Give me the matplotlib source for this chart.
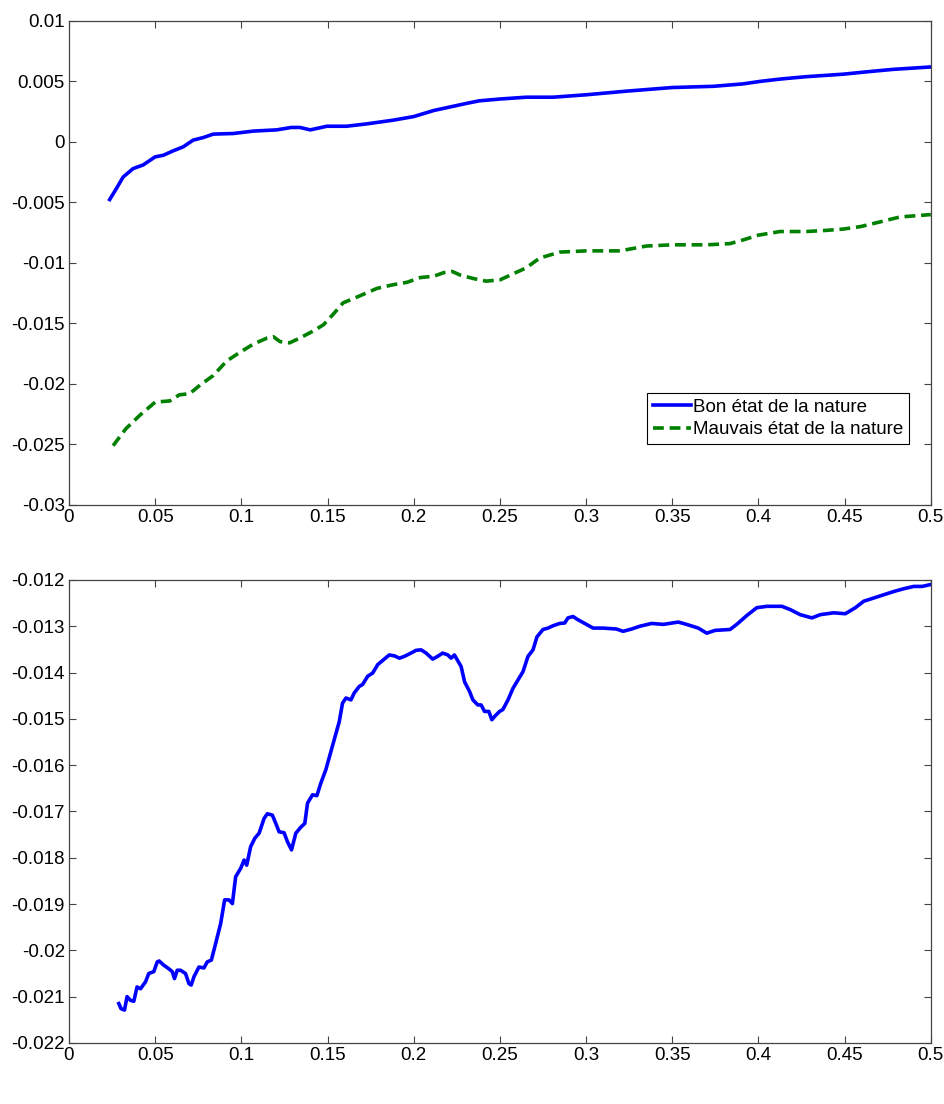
import matplotlib
matplotlib.use("Agg")
import matplotlib.pyplot as plt
from matplotlib.ticker import FixedLocator, FixedFormatter

plt.rcParams['font.family'] = ['Liberation Sans', 'DejaVu Sans']
plt.rcParams['axes.unicode_minus'] = False

# ---- upper panel: two states of nature ----
bon_x = [0.0236, 0.0275, 0.0314, 0.0372, 0.043, 0.05, 0.0547, 0.0605, 0.0663, 0.072,
         0.078, 0.0837, 0.0953, 0.107, 0.1205, 0.129, 0.134, 0.140, 0.1496, 0.161,
         0.173, 0.188, 0.192, 0.2, 0.2116, 0.2213, 0.231, 0.238, 0.25, 0.2653,
         0.2808, 0.3, 0.3234, 0.35, 0.3738, 0.391, 0.4006, 0.4126, 0.428, 0.449,
         0.463, 0.478, 0.5]
bon_y = [-0.00476, -0.00385, -0.0029, -0.0022, -0.0019, -0.00123, -0.0011, -0.00073, -0.0004, 0.00015,
         0.00037, 0.00065, 0.0007, 0.0009, 0.0010, 0.0012, 0.0012, 0.0010, 0.0013, 0.0013,
         0.0015, 0.0018, 0.0019, 0.0021, 0.0026, 0.0029, 0.0032, 0.0034, 0.00355, 0.0037,
         0.0037, 0.0039, 0.0042, 0.0045, 0.0046, 0.0048, 0.0050, 0.0052, 0.0054, 0.0056,
         0.0058, 0.0060, 0.0062]

mauvais_x = [0.0256, 0.033, 0.041, 0.05, 0.0585, 0.064, 0.070, 0.076, 0.0837, 0.0915,
             0.099, 0.107, 0.115, 0.1186, 0.1225, 0.128, 0.134, 0.142, 0.1477, 0.1535,
             0.159, 0.169, 0.1787, 0.188, 0.196, 0.204, 0.2116, 0.2174, 0.2223, 0.227,
             0.235, 0.242, 0.25, 0.2576, 0.2653, 0.273, 0.2847, 0.3, 0.3196, 0.335,
             0.35, 0.362, 0.37, 0.3835, 0.391, 0.4, 0.4126, 0.428, 0.44, 0.449,
             0.459, 0.4707, 0.482, 0.5]
mauvais_y = [-0.0251, -0.0237, -0.0226, -0.0215, -0.0214, -0.0209, -0.0208, -0.0201, -0.0193, -0.0181,
             -0.0174, -0.0167, -0.0162, -0.0161, -0.0165, -0.0166, -0.0162, -0.0156, -0.0151, -0.0142,
             -0.0133, -0.0127, -0.0121, -0.0118, -0.0116, -0.0112, -0.0111, -0.0108, -0.0107, -0.0110,
             -0.0113, -0.0115, -0.0114, -0.0109, -0.0104, -0.0096, -0.0091, -0.0090, -0.0090, -0.0086,
             -0.0085, -0.0085, -0.0085, -0.0084, -0.0081, -0.0077, -0.0074, -0.0074, -0.0073, -0.0072,
             -0.0070, -0.0066, -0.0062, -0.0060]

# ---- lower panel: difference ----
diff_x = [0.0289, 0.0302, 0.0322, 0.0337, 0.0357, 0.0376, 0.0395, 0.0415, 0.0444, 0.0463,
          0.0492, 0.0512, 0.0523, 0.055, 0.058, 0.0599, 0.0612, 0.0628, 0.0647, 0.0676,
          0.0696, 0.0709, 0.0725, 0.0754, 0.0783, 0.0802, 0.0826, 0.0851, 0.088, 0.0903,
          0.0928, 0.0948, 0.0967, 0.0996, 0.1016, 0.1031, 0.1054, 0.1078, 0.1103, 0.1132,
          0.1151, 0.118, 0.12, 0.1219, 0.1248, 0.1267, 0.1291, 0.1316, 0.1345, 0.1368,
          0.1384, 0.1413, 0.1438, 0.1461, 0.149, 0.1519, 0.1539, 0.1568, 0.1587, 0.1607,
          0.1636, 0.1655, 0.1684, 0.1703, 0.1733, 0.1762, 0.1791, 0.182, 0.1858, 0.1888,
          0.1917, 0.1946, 0.1984, 0.2014, 0.2043, 0.2072, 0.211, 0.2139, 0.2168, 0.2198,
          0.2217, 0.2236, 0.2275, 0.2295, 0.2324, 0.2343, 0.2372, 0.2391, 0.2411, 0.2436,
          0.2453, 0.2469, 0.2498, 0.2517, 0.2547, 0.2576, 0.2605, 0.2634, 0.2663, 0.2692,
          0.2715, 0.275, 0.2779, 0.2808, 0.2847, 0.2876, 0.2895, 0.2924, 0.2953, 0.2992,
          0.3041, 0.3099, 0.3176, 0.3215, 0.3264, 0.3312, 0.338, 0.3448, 0.3535, 0.3583,
          0.3651, 0.37, 0.3748, 0.3835, 0.3874, 0.3932, 0.399, 0.4048, 0.4136, 0.4184,
          0.4242, 0.431, 0.4359, 0.4436, 0.4504, 0.4562, 0.4611, 0.4669, 0.4727, 0.4785,
          0.4843, 0.4901, 0.495, 0.4998]
diff_y = [-0.02115, -0.02126, -0.02129, -0.02100, -0.02108, -0.0211, -0.02079, -0.02083, -0.02068, -0.0205,
          -0.02046, -0.02025, -0.02023, -0.02032, -0.0204, -0.02046, -0.02061, -0.02043, -0.02043, -0.0205,
          -0.02072, -0.02075, -0.02057, -0.02036, -0.02038, -0.02025, -0.02021, -0.01985, -0.01942, -0.01891,
          -0.01891, -0.01899, -0.01841, -0.01823, -0.01805, -0.01816, -0.01776, -0.01758, -0.01747, -0.01715,
          -0.01705, -0.01708, -0.01726, -0.01744, -0.01746, -0.01765, -0.01783, -0.01747, -0.01734, -0.01726,
          -0.01682, -0.01664, -0.01666, -0.01639, -0.0161, -0.01571, -0.01545, -0.01506, -0.01466, -0.01455,
          -0.01459, -0.01444, -0.0143, -0.01426, -0.01408, -0.01401, -0.01383, -0.01374, -0.01362, -0.01364,
          -0.01369, -0.01365, -0.01358, -0.01352, -0.01351, -0.01358, -0.01371, -0.01365, -0.01358, -0.01362,
          -0.01369, -0.01362, -0.01387, -0.01420, -0.01441, -0.01459, -0.0147, -0.0147, -0.01484, -0.01484,
          -0.01502, -0.01495, -0.01484, -0.0148, -0.01459, -0.01434, -0.01416, -0.01398, -0.01365, -0.01351,
          -0.01323, -0.01307, -0.01304, -0.01299, -0.01294, -0.01293, -0.01282, -0.01279, -0.01286, -0.01294,
          -0.01304, -0.01304, -0.01306, -0.01311, -0.01306, -0.013, -0.01294, -0.01296, -0.01291, -0.01296,
          -0.01304, -0.01315, -0.01309, -0.01307, -0.01296, -0.01277, -0.0126, -0.01257, -0.01257, -0.01264,
          -0.01275, -0.01282, -0.01275, -0.01271, -0.01273, -0.0126, -0.01246, -0.01239, -0.01232, -0.01225,
          -0.01219, -0.01214, -0.01214, -0.0121]

x_ticks = [0, 0.05, 0.1, 0.15, 0.2, 0.25, 0.3, 0.35, 0.4, 0.45, 0.5]
x_labels = ['0', '0.05', '0.1', '0.15', '0.2', '0.25', '0.3', '0.35', '0.4', '0.45', '0.5']
top_y_ticks = [-0.03, -0.025, -0.02, -0.015, -0.01, -0.005, 0, 0.005, 0.01]
top_y_labels = ['-0.03', '-0.025', '-0.02', '-0.015', '-0.01', '-0.005', '0', '0.005', '0.01']
bot_y_ticks = [-0.022, -0.021, -0.02, -0.019, -0.018, -0.017, -0.016, -0.015, -0.014, -0.013, -0.012]
bot_y_labels = ['-0.022', '-0.021', '-0.02', '-0.019', '-0.018', '-0.017', '-0.016', '-0.015',
                '-0.014', '-0.013', '-0.012']

FS = 13.5
fig = plt.figure(figsize=(9.45, 11.04), dpi=100)
ax1 = fig.add_axes([0.073, 0.5426, 0.912, 0.4384])
ax2 = fig.add_axes([0.073, 0.0553, 0.912, 0.4194])


def style(ax, yticks, ylabels, ylim):
    ax.set_xlim(0, 0.5)
    ax.set_ylim(*ylim)
    ax.xaxis.set_major_locator(FixedLocator(x_ticks))
    ax.xaxis.set_major_formatter(FixedFormatter(x_labels))
    ax.yaxis.set_major_locator(FixedLocator(yticks))
    ax.yaxis.set_major_formatter(FixedFormatter(ylabels))
    ax.tick_params(direction='in', length=5, width=0.8, color='#444444',
                   top=True, right=True, labelsize=FS, pad=3, labelcolor='black')
    for s in ax.spines.values():
        s.set_color('#444444')
        s.set_linewidth(0.9)


ax1.plot(bon_x, bon_y, color='#0000ff', lw=2.6, label='Bon état de la nature')
ax1.plot(mauvais_x, mauvais_y, color='#008000', lw=2.6, ls=(0, (3.0, 1.6)),
         label='Mauvais état de la nature')
style(ax1, top_y_ticks, top_y_labels, (-0.03, 0.01))
leg = ax1.legend(loc='lower right', bbox_to_anchor=(0.975, 0.126), fontsize=FS,
                 frameon=True, fancybox=False, framealpha=1, edgecolor='black',
                 handlelength=2.0, handletextpad=0.15, labelspacing=0.3,
                 borderpad=0.3, borderaxespad=0)
leg.get_frame().set_linewidth(0.8)

ax2.plot(diff_x, diff_y, color='#0000ff', lw=2.6)
style(ax2, bot_y_ticks, bot_y_labels, (-0.022, -0.012))

fig.savefig('out.png', dpi=100)
